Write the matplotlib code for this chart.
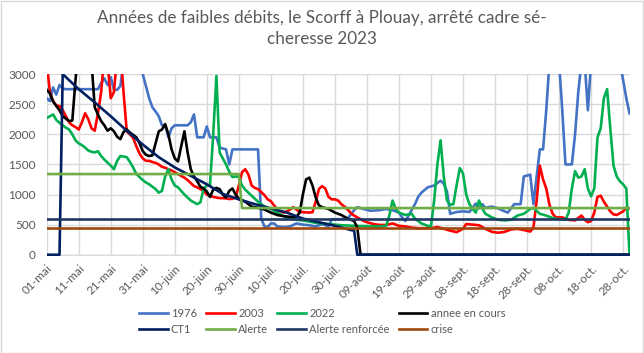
import matplotlib
matplotlib.use("Agg")
import matplotlib.pyplot as plt
from matplotlib.patches import Rectangle

plt.rcParams['font.family'] = ['Lato', 'DejaVu Sans']

# categories : un point par jour du 01-mai au 30-oct.
tick_labels = ['01-mai', '11-mai', '21-mai', '31-mai', '10-juin', '20-juin', '30-juin',
               '10-juil.', '20-juil.', '30-juil.', '09-août', '19-août', '29-août',
               '08-sept.', '18-sept.', '28-sept.', '08-oct.', '18-oct.', '28-oct.']
n_days = 183

# 1976
d1976 = [0, 1, 2, 3, 4, 5, 6, 16, 17, 18, 19, 20, 21, 22, 23, 24, 25, 28, 29, 30, 31, 32, 33, 34,
         35, 36, 37, 38, 39, 40, 44, 45, 46, 47, 49, 50, 51, 53, 54, 56, 57, 58, 66, 67, 68, 69,
         70, 71, 72, 74, 76, 78, 80, 82, 84, 86, 88, 89, 92, 94, 96, 97, 99, 101, 104, 106, 108,
         110, 111, 112, 113, 115, 116, 117, 119, 121, 123, 124, 125, 126, 128, 130, 132, 134, 135,
         136, 137, 139, 141, 143, 144, 146, 148, 149, 151, 152, 153, 154, 155, 156, 157, 160, 161,
         162, 164, 165, 166, 167, 168, 169, 170, 179, 180, 181, 182]
v1976 = [2600, 2550, 2780, 2660, 2820, 2760, 2750, 2750, 2850, 2930, 2820, 2950, 2740, 2740, 2800,
         3200, 3500, 3500, 3200, 3000, 2800, 2600, 2450, 2380, 2300, 2150, 2150, 1950, 2100, 2150,
         2150, 2200, 2330, 1950, 1950, 2130, 1950, 1950, 1780, 1750, 1500, 1750, 1750, 600, 470,
         460, 520, 520, 470, 460, 470, 520, 500, 490, 470, 510, 470, 590, 590, 600, 740, 790, 760,
         730, 740, 760, 740, 700, 620, 560, 650, 840, 960, 1030, 1120, 1150, 1230, 1180, 1050, 680,
         710, 720, 710, 850, 770, 840, 780, 800, 770, 720, 700, 840, 840, 1300, 1330, 840, 1300,
         1750, 1750, 2400, 3200, 3200, 2400, 1500, 1500, 2000, 2700, 3200, 3200, 2400, 3200, 3200,
         2900, 2600, 2350]

# 2003
d2003 = list(range(0, 80)) + [82, 83, 84, 85, 86, 87, 88, 89, 90, 91, 92, 93, 94, 95, 96, 97, 98,
         99, 100, 102, 104, 106, 108, 110, 112, 114, 116, 120, 122, 124, 126, 128, 130, 131, 133,
         135, 137, 139, 141, 143, 145, 147, 149, 151, 152, 153, 154, 155, 156, 157, 158, 159, 161,
         163, 165, 167, 168, 169, 170, 171, 172, 173, 174, 175, 176, 177, 178, 180, 181, 182]
v2003 = [3200, 2700, 2550, 2480, 2470, 2400, 2300, 2200, 2150, 2120, 2080, 2200, 2350, 2250, 2100,
         2060, 2350, 2700, 3300, 3200, 2600, 2700, 3300, 3400, 2700, 2050, 2000, 1940, 1800, 1680,
         1600, 1560, 1560, 1540, 1525, 1500, 1460, 1445, 1420, 1400, 1370, 1340, 1310, 1280, 1240,
         1190, 1140, 1120, 1090, 1060, 1000, 980, 960, 950, 940, 940, 935, 925, 930, 950, 1150,
         1370, 1420, 1330, 1150, 1110, 1090, 1040, 990, 920, 890, 820, 750, 720, 700, 720, 750,
         790, 750, 710,
         700, 705, 880, 1090, 1140, 1100, 960, 920, 920, 900, 840, 800, 750, 690, 650, 620, 590,
         560, 540, 510, 495, 495, 520, 480, 470, 450, 440, 440, 460, 430, 400, 375, 430, 510, 500,
         490, 430, 380, 365, 380, 420, 430, 410, 385, 450, 900, 1480, 1250, 1100, 830, 680, 620,
         620, 580, 570, 650, 580, 540, 560, 700, 960, 980, 880, 800, 720, 670, 660, 720, 780, 770]

# 2022
d2022 = list(range(0, 69)) + [70, 72, 74, 76, 78, 80, 84, 88, 92, 96, 100, 104, 106, 107, 108,
         109, 110, 112, 114, 115, 117, 119, 120, 121, 122, 123, 124, 125, 126, 127, 128, 129, 130,
         131, 132, 133, 134, 135, 136, 137, 139, 141, 143, 145, 147, 149, 151, 152, 154, 156, 158,
         160, 162, 163, 164, 165, 166, 167, 168, 169, 170, 171, 172, 173, 174, 175, 176, 177, 178,
         179, 180, 181, 182]
v2022 = [2270, 2300, 2330, 2240, 2190, 2150, 2110, 2080, 2000, 1900, 1850, 1820, 1780, 1730, 1710,
         1700, 1720, 1640, 1580, 1530, 1480, 1420, 1560, 1640, 1630, 1620, 1540, 1450, 1340, 1290,
         1240, 1200, 1170, 1130, 1090, 1030, 1060, 1300, 1420, 1250, 1150, 1120, 1060, 1000, 950,
         900, 870, 840, 870, 1100, 1150, 1160, 2000, 2970, 1700, 1600, 1500, 1380, 1290, 1300,
         1290, 1150, 1080, 1030, 980, 930, 880, 840, 800,
         760, 700, 640, 600, 580, 570, 530, 510, 490, 480, 475, 470, 480, 650, 900, 760, 700, 660,
         680, 600, 520, 480, 470, 900, 1500, 1900, 1300, 900, 830, 840, 1150, 1440, 1350, 1000,
         840, 760, 700, 900, 770, 680, 620, 580, 570, 580, 650, 680, 760, 780, 680, 650, 610, 590,
         580, 700, 1100, 1390, 1280, 1300, 1420, 1100, 970, 1100, 1950, 2100, 2600, 2750, 2100,
         1480, 1300, 1220, 1170, 1100, 0]

# annee en cours
dcours = list(range(0, 61)) + [62, 64, 66, 68, 70, 72, 74, 76, 78, 79, 80, 81, 82, 83, 84, 85,
          86, 88, 90, 92, 94, 96, 97, 98, 182]
vcours = [2740, 2680, 2545, 2470, 2400, 2300, 2260, 2220, 2230, 2900, 3500, 3500, 3500, 3500,
          3200, 2450, 2330, 2220, 2150, 2060, 2100, 2050, 1960, 1920, 2040, 2080, 2030, 1990, 1950,
          1850, 1720, 1660, 1640, 1650, 1850, 2050, 2080, 2170, 2000, 1750, 1600, 1550, 1800, 2050,
          1700, 1420, 1300, 1220, 1130, 1100, 1050, 960, 1080, 1110, 1090, 1000, 950, 1060, 1100,
          1000, 930,
          880, 800, 780, 750, 700, 660, 640, 630, 630, 700, 1000, 1250, 1280, 1150, 950, 820, 790,
          760, 700, 660, 600, 560, 450, 0, 0]

# CT1
dct1 = [0, 4, 5, 10, 15, 20, 25, 30, 35, 40, 45, 50, 55, 60, 65, 70, 75, 80, 85, 90, 95, 96, 97, 182]
vct1 = [0, 0, 3000, 2750, 2530, 2300, 2060, 1830, 1620, 1450, 1310, 1170, 1010, 920, 840, 770,
        700, 600, 540, 480, 410, 400, 0, 0]

# seuils
dalerte = [0, 60, 61, 182]
valerte = [1340, 1340, 775, 775]
dseuil = [0, 182]
vrenforcee = [600, 600]
vcrise = [450, 450]

gris = '#595959'
grille = '#D9D9D9'

fig = plt.figure(figsize=(6.44, 3.53), dpi=100)
ax = fig.add_axes([0.0725, 0.275, 0.905, 0.515])

lw = 1.9
l1, = ax.plot(d1976, v1976, color='#4472C4', lw=lw, label='1976')
l2, = ax.plot(d2003, v2003, color='#FF0000', lw=lw, label='2003')
l3, = ax.plot(d2022, v2022, color='#00B050', lw=lw, label='2022')
l4, = ax.plot(dcours, vcours, color='#000000', lw=lw, label='annee en cours')
l5, = ax.plot(dct1, vct1, color='#002060', lw=lw, label='CT1')
l6, = ax.plot(dalerte, valerte, color='#70AD47', lw=lw, label='Alerte')
l7, = ax.plot(dseuil, vrenforcee, color='#203864', lw=lw, label='Alerte renforcée')
l8, = ax.plot(dseuil, vcrise, color='#9E480E', lw=lw, label='crise')

ax.set_xlim(0, n_days - 1)
ax.set_ylim(-20, 3000)
ax.set_yticks(range(0, 3001, 500))
ax.set_xticks(range(0, 10 * len(tick_labels), 10))
ax.set_xticklabels(tick_labels, rotation=45, ha='right', rotation_mode='anchor')
ax.tick_params(length=0, colors=gris, labelsize=8.5)
ax.tick_params(axis='x', pad=5)
ax.tick_params(axis='y', pad=8)
ax.grid(True, color=grille, lw=1)
ax.set_axisbelow(True)
for s in ax.spines.values():
    s.set_visible(False)
ax.axhline(0, color=grille, lw=1, zorder=0)

fig.suptitle('Années de faibles débits, le Scorff à Plouay, arrêté cadre sé-\ncheresse 2023',
             color=gris, fontsize=12.3, y=0.972, linespacing=1.4)

handles = [l1, l5, l2, l6, l3, l7, l4, l8]
fig.legend(handles=handles, labels=[h.get_label() for h in handles], ncol=4,
           loc='center', bbox_to_anchor=(0.5, 0.09), frameon=False, fontsize=8,
           handlelength=2.6, handletextpad=0.3, columnspacing=0.8, labelspacing=0.45,
           labelcolor=gris)

fig.patches.append(Rectangle((0.001, 0.001), 0.997, 0.997, transform=fig.transFigure,
                             fill=False, edgecolor=grille, lw=1))

fig.savefig('out.png', dpi=100)
